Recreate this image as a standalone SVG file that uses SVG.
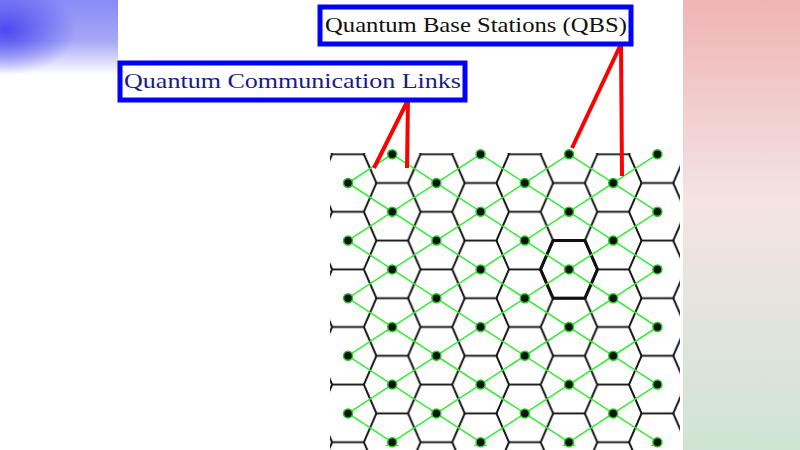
<svg xmlns="http://www.w3.org/2000/svg" width="800" height="450" viewBox="0 0 800 450">
<defs>
<style>
.lbl{font-family:"Liberation Serif","Times New Roman",serif;font-size:21px}
.box{fill:#fff;stroke:#0000ff;stroke-width:5}
.red{stroke:#ff0000;stroke-width:4;fill:none}
.hex{fill:none;stroke:#111;stroke-width:1.6}
.lnk{stroke:#33ee33;stroke-width:1.5;fill:none}
.dot{fill:#111;stroke:#2c2;stroke-width:1.5}
</style>
<linearGradient id="lbv" x1="0" y1="0" x2="0" y2="1">
<stop offset="0" stop-color="#8a8af8"/><stop offset="0.55" stop-color="#a8a8f6"/><stop offset="1" stop-color="#ffffff"/>
</linearGradient>
<radialGradient id="lbd" cx="0.05" cy="0.4" r="0.6">
<stop offset="0" stop-color="#4040f0" stop-opacity="0.9"/><stop offset="1" stop-color="#4040f0" stop-opacity="0"/>
</radialGradient>
<linearGradient id="rb" x1="0" y1="0" x2="0" y2="1">
<stop offset="0" stop-color="#f0b4b4"/><stop offset="0.45" stop-color="#f4e4e4"/><stop offset="1" stop-color="#cfe4d2"/>
</linearGradient>
<path id="h" d="M-28.5 0L-16 -28.8L16 -28.8L28.5 0L16 28.8L-16 28.8Z"/>
<pattern id="hp" patternUnits="userSpaceOnUse" x="348" y="168.6" width="88.4" height="57.6">
<g class="hex">
<use href="#h" x="0" y="14.4"/><use href="#h" x="88.4" y="14.4"/>
<use href="#h" x="0" y="72"/><use href="#h" x="88.4" y="72"/>
<use href="#h" x="44.2" y="43.2"/><use href="#h" x="44.2" y="-14.4"/>
<use href="#h" x="0" y="-43.2"/><use href="#h" x="88.4" y="-43.2"/>
<use href="#h" x="44.2" y="100.8"/>
</g>
</pattern>
<clipPath id="lc"><rect x="346" y="152" width="314" height="294"/></clipPath>
<circle id="d" r="4.5"/>
</defs>
<rect width="800" height="450" fill="#fff"/>
<rect x="0" y="0" width="118" height="75" fill="url(#lbv)"/>
<rect x="0" y="0" width="118" height="75" fill="url(#lbd)"/>
<rect x="683" y="0" width="117" height="450" fill="url(#rb)"/>
<g id="grid">
<rect x="330" y="153" width="350" height="297" fill="url(#hp)"/>
<use href="#h" x="569" y="269.4" fill="none" stroke="#111" stroke-width="3"/>
</g>
<g id="connectors" clip-path="url(#lc)" class="lnk">
<path d="M348 -47.4L657.4 154.2M348 10.2L657.4 211.8M348 67.8L657.4 269.4M348 125.4L657.4 327M348 183L657.4 384.6M348 240.6L657.4 442.2M348 298.2L657.4 499.8M348 355.8L657.4 557.4M348 413.4L657.4 615"/>
<path d="M348 183L657.4 -18.6M348 240.6L657.4 39M348 298.2L657.4 96.6M348 355.8L657.4 154.2M348 413.4L657.4 211.8M348 471L657.4 269.4M348 528.6L657.4 327M348 586.2L657.4 384.6M348 643.8L657.4 442.2"/>
</g>
<g id="stations" class="dot">
<use href="#d" x="348" y="183"/><use href="#d" x="348" y="240.6"/><use href="#d" x="348" y="298.2"/><use href="#d" x="348" y="355.8"/><use href="#d" x="348" y="413.4"/>
<use href="#d" x="436.4" y="183"/><use href="#d" x="436.4" y="240.6"/><use href="#d" x="436.4" y="298.2"/><use href="#d" x="436.4" y="355.8"/><use href="#d" x="436.4" y="413.4"/>
<use href="#d" x="524.8" y="183"/><use href="#d" x="524.8" y="240.6"/><use href="#d" x="524.8" y="298.2"/><use href="#d" x="524.8" y="355.8"/><use href="#d" x="524.8" y="413.4"/>
<use href="#d" x="613.2" y="183"/><use href="#d" x="613.2" y="240.6"/><use href="#d" x="613.2" y="298.2"/><use href="#d" x="613.2" y="355.8"/><use href="#d" x="613.2" y="413.4"/>
<use href="#d" x="392.2" y="154.2"/><use href="#d" x="392.2" y="211.8"/><use href="#d" x="392.2" y="269.4"/><use href="#d" x="392.2" y="327"/><use href="#d" x="392.2" y="384.6"/><use href="#d" x="392.2" y="442.2"/>
<use href="#d" x="480.6" y="154.2"/><use href="#d" x="480.6" y="211.8"/><use href="#d" x="480.6" y="269.4"/><use href="#d" x="480.6" y="327"/><use href="#d" x="480.6" y="384.6"/><use href="#d" x="480.6" y="442.2"/>
<use href="#d" x="569" y="154.2"/><use href="#d" x="569" y="211.8"/><use href="#d" x="569" y="269.4"/><use href="#d" x="569" y="327"/><use href="#d" x="569" y="384.6"/><use href="#d" x="569" y="442.2"/>
<use href="#d" x="657.4" y="154.2"/><use href="#d" x="657.4" y="211.8"/><use href="#d" x="657.4" y="269.4"/><use href="#d" x="657.4" y="327"/><use href="#d" x="657.4" y="384.6"/><use href="#d" x="657.4" y="442.2"/>
</g>
<g id="pointers" class="red">
<path d="M408 100L374 168M408 100L407 168"/>
<path d="M621 44L572 148M621 44L622 176"/>
</g>
<g id="label-qbs">
<rect class="box" x="320" y="7" width="311" height="37"/>
<text class="lbl" x="325" y="32" textLength="302" lengthAdjust="spacingAndGlyphs" fill="#111">Quantum Base Stations (QBS)</text>
</g>
<g id="label-links">
<rect class="box" x="120" y="63" width="345" height="37"/>
<text class="lbl" x="124" y="88" textLength="337" lengthAdjust="spacingAndGlyphs" fill="#1a1a8c">Quantum Communication Links</text>
</g>
</svg>
